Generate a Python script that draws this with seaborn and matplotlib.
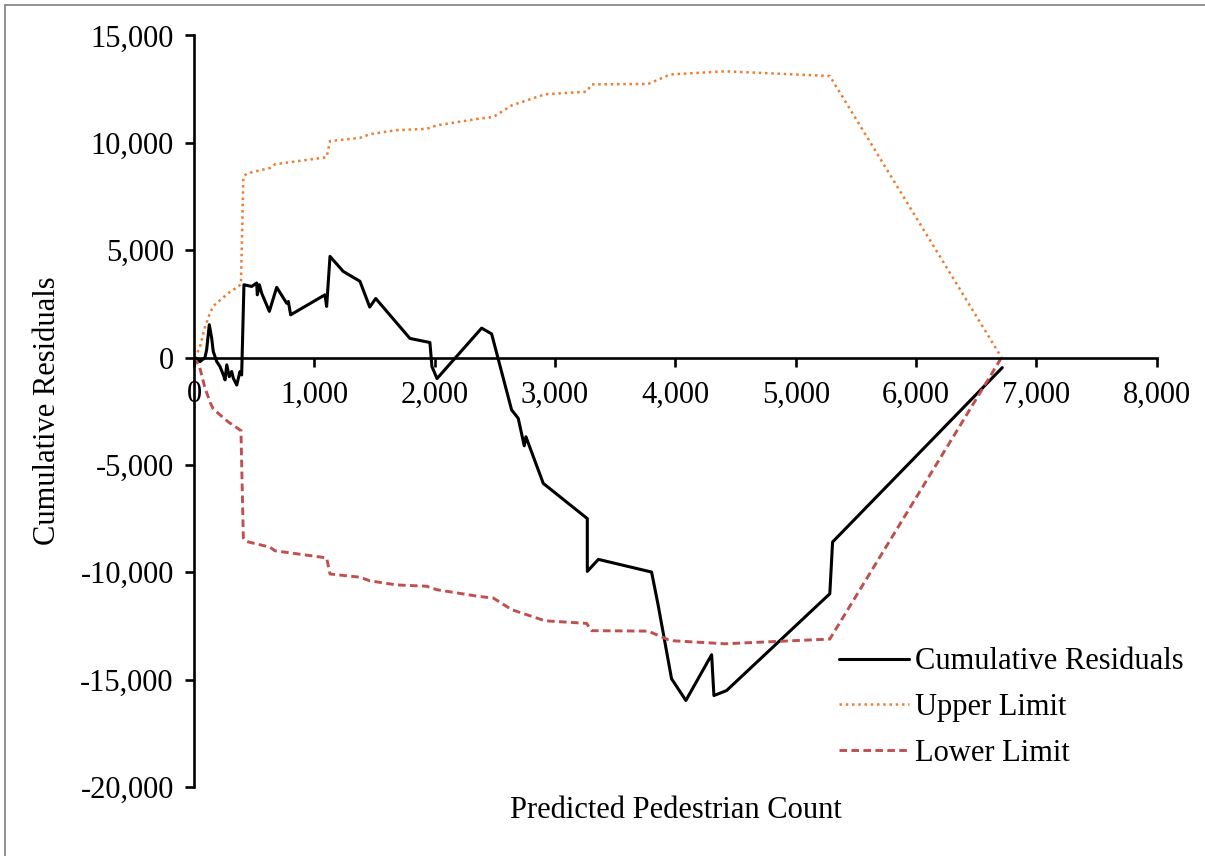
import matplotlib
matplotlib.use('Agg')
import matplotlib.pyplot as plt
import matplotlib.ticker as mticker
from matplotlib.lines import Line2D
import pandas as pd
import seaborn as sns

# cumulative residuals
pred_count = [0, 8, 50, 91, 105, 127, 147, 160, 189, 216, 244, 258, 272, 293, 313,
              327, 355, 382, 396, 415, 479, 521, 526, 543, 562, 626, 687, 770, 784,
              803, 1088, 1102, 1130, 1240, 1379, 1460, 1510, 1794, 1960, 1977, 2019,
              2390, 2473, 2639, 2694, 2744, 2758, 2902, 3268, 3268, 3360, 3802, 3857,
              3968, 4087, 4301, 4320, 4425, 5283, 5306, 6716]
cum_resid = [0, 0, -190, 0, 360, 1530, 900, 280, -190, -420, -810, -1040, -340, -890,
             -650, -970, -1280, -650, -810, 3390, 3310, 3470, 2920, 3390, 3000, 2150,
             3270, 2530, 2610, 1990, 2920, 2380, 4710, 4010, 3550, 2350, 2750, 890,
             700, -420, -980, 1370, 1100, -2440, -2830, -4110, -3690, -5860, -7500,
             -9960, -9400, -9990, -11540, -14960, -15970, -13840, -15740, -15510,
             -11000, -8590, -470]

# confidence limits
limit_x = [0, 45, 90, 135, 160, 285, 390, 410, 438, 631, 673, 1102, 1130, 1379, 1462,
           1684, 1933, 2016, 2361, 2487, 2639, 2874, 2916, 3262, 3304, 3774, 3940,
           3982, 4411, 5283, 6710]
upper_limit = [0, 400, 1400, 2100, 2400, 3000, 3400, 8400, 8570, 8830, 9000, 9330,
               10080, 10230, 10400, 10590, 10650, 10810, 11120, 11200, 11740, 12180,
               12260, 12380, 12720, 12740, 13140, 13190, 13330, 13110, 0]
lower_limit = [0, -400, -1400, -2100, -2400, -3000, -3400, -8400, -8570, -8830, -9000,
               -9330, -10080, -10230, -10400, -10590, -10650, -10810, -11120, -11200,
               -11740, -12180, -12260, -12380, -12720, -12740, -13140, -13190, -13330,
               -13110, 0]

x_ticks = [0, 1000, 2000, 3000, 4000, 5000, 6000, 7000, 8000]
y_ticks = [-20000, -15000, -10000, -5000, 0, 5000, 10000, 15000]

sns.set_theme(style='white')
plt.rcParams['font.family'] = ['Liberation Serif', 'DejaVu Serif']
plt.rcParams['font.size'] = 22
plt.rcParams['axes.unicode_minus'] = False
plt.rcParams['text.color'] = 'black'

resid_df = pd.DataFrame({'x': pred_count, 'y': cum_resid})
upper_df = pd.DataFrame({'x': limit_x, 'y': upper_limit})
lower_df = pd.DataFrame({'x': limit_x, 'y': lower_limit})

fig = plt.figure(figsize=(12.05, 8.56), dpi=100)
ax = fig.add_axes([0.161, 0.0806, 0.799, 0.878])

sns.lineplot(data=resid_df, x='x', y='y', sort=False, estimator=None, ax=ax,
             color='black', lw=2.2, label='Cumulative Residuals')
sns.lineplot(data=upper_df, x='x', y='y', sort=False, estimator=None, ax=ax,
             color='#ED7D31', lw=1.8, linestyle=(0, (1, 1.5)), label='Upper Limit')
sns.lineplot(data=lower_df, x='x', y='y', sort=False, estimator=None, ax=ax,
             color='#C0504D', lw=2.1, linestyle=(0, (2.6, 1.5)), label='Lower Limit')

ax.set_xlim(0, 8000)
ax.set_ylim(-20000, 15000)
ax.set_xticks(x_ticks)
ax.set_yticks(y_ticks)
ax.xaxis.set_major_formatter(mticker.StrMethodFormatter('{x:,.0f}'))
ax.yaxis.set_major_formatter(mticker.StrMethodFormatter('{x:,.0f}'))
ax.set_xlabel('')
ax.set_ylabel('')

ax.spines['top'].set_visible(False)
ax.spines['right'].set_visible(False)
ax.spines['bottom'].set_position(('data', 0))
for side in ['left', 'bottom']:
    ax.spines[side].set_color('black')
    ax.spines[side].set_linewidth(1.9)
ax.tick_params(axis='both', which='major', direction='out', length=6.5, width=1.9,
               color='black', labelsize=22, labelcolor='black')
ax.tick_params(axis='y', pad=8, left=True)
ax.tick_params(axis='x', pad=10, bottom=True)

fig.text(676 / 1205, 1 - 810 / 856, 'Predicted Pedestrian Count', ha='center',
         va='center', fontsize=22, color='black')
fig.text(48 / 1205, 1 - 411 / 856, 'Cumulative Residuals', ha='center',
         va='center', rotation=90, fontsize=22, color='black')

leg = ax.legend(loc='lower right', bbox_to_anchor=(0.995, 0.085),
                bbox_transform=fig.transFigure, frameon=False, fontsize=22,
                handlelength=2.3, handletextpad=0.2, labelspacing=0.55, borderpad=0)
for txt in leg.get_texts():
    txt.set_color('black')

# thin border at the top and left of the picture
fig.add_artist(Line2D([5 / 1205, 5 / 1205], [0, 1 - 5 / 856], color='#7f7f7f', lw=1.2,
                      transform=fig.transFigure))
fig.add_artist(Line2D([5 / 1205, 1], [1 - 5 / 856, 1 - 5 / 856], color='#7f7f7f', lw=1.2,
                      transform=fig.transFigure))

fig.savefig('out.png', dpi=100)
plt.close(fig)
